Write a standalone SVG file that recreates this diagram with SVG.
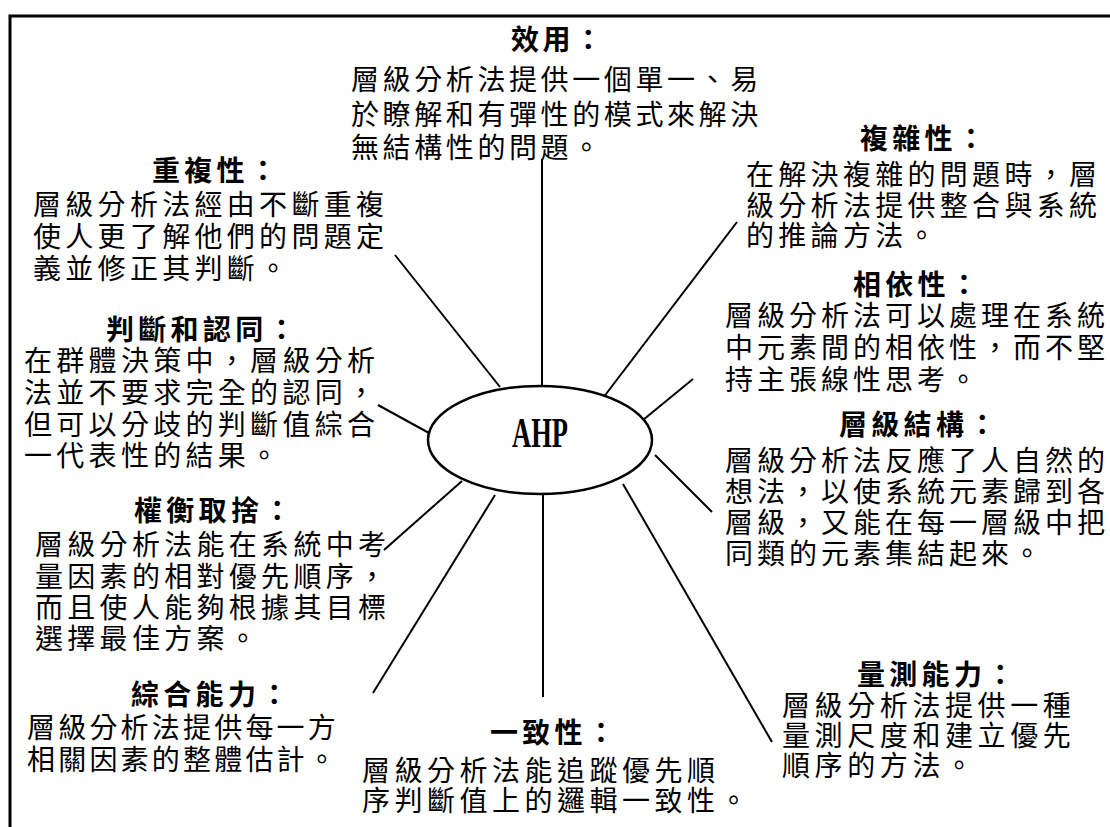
<svg xmlns="http://www.w3.org/2000/svg" width="1110" height="827" viewBox="0 0 1110 827">
<style>
.t{font-family:"Noto Sans CJK TC","Noto Sans CJK SC",sans-serif;font-size:28px;font-weight:700;fill:#000;letter-spacing:4.3px}
.b{font-family:"Noto Sans CJK TC","Noto Sans CJK SC",sans-serif;font-size:28px;font-weight:400;fill:#000;letter-spacing:4.3px}
.c line{stroke:#000;stroke-width:2;stroke-linecap:butt}
</style>
<rect width="1110" height="827" fill="#fff"/>
<path d="M10,827 V16 H1110" fill="none" stroke="#000" stroke-width="3"/>
<g id="connectors" class="c">
<line x1="542" y1="159" x2="542" y2="386"/>
<line x1="395" y1="255" x2="500" y2="387"/>
<line x1="737" y1="222" x2="603" y2="398"/>
<line x1="693" y1="379" x2="643" y2="420"/>
<line x1="378" y1="405" x2="429" y2="433"/>
<line x1="655" y1="455" x2="712" y2="512"/>
<line x1="462" y1="481" x2="384" y2="550"/>
<line x1="495" y1="495" x2="373" y2="693"/>
<line x1="543" y1="492" x2="543" y2="697"/>
<line x1="623" y1="484" x2="772" y2="742"/>
</g>
<g id="ahp">
<ellipse cx="540" cy="440" rx="112" ry="54" fill="#fff" stroke="#000" stroke-width="2.5"/>
<text x="540" y="447" text-anchor="middle" font-family="Liberation Serif, serif" font-weight="700" font-size="42" textLength="56" lengthAdjust="spacingAndGlyphs">AHP</text>
</g>
<g id="utility" style="letter-spacing:3.6px">
<text class="t" x="511" y="50" style="letter-spacing:3.6px">效用：</text>
<text class="b" x="351" y="90" style="letter-spacing:3.6px">層級分析法提供一個單一、易</text>
<text class="b" x="351" y="125" style="letter-spacing:3.6px">於瞭解和有彈性的模式來解決</text>
<text class="b" x="351" y="158" style="letter-spacing:3.6px">無結構性的問題。</text>
</g>
<g id="complexity">
<text class="t" x="860" y="149">複雜性：</text>
<text class="b" x="746" y="185">在解決複雜的問題時，層</text>
<text class="b" x="746" y="216">級分析法提供整合與系統</text>
<text class="b" x="746" y="246">的推論方法。</text>
</g>
<g id="repetition">
<text class="t" x="152" y="181">重複性：</text>
<text class="b" x="33" y="215">層級分析法經由不斷重複</text>
<text class="b" x="33" y="247">使人更了解他們的問題定</text>
<text class="b" x="33" y="279">義並修正其判斷。</text>
</g>
<g id="interdependence">
<text class="t" x="853" y="295">相依性：</text>
<text class="b" x="725" y="326" style="letter-spacing:4px">層級分析法可以處理在系統</text>
<text class="b" x="725" y="358" style="letter-spacing:4px">中元素間的相依性，而不堅</text>
<text class="b" x="725" y="390" style="letter-spacing:4px">持主張線性思考。</text>
</g>
<g id="judgment">
<text class="t" x="106" y="340">判斷和認同：</text>
<text class="b" x="24" y="371">在群體決策中，層級分析</text>
<text class="b" x="24" y="403">法並不要求完全的認同，</text>
<text class="b" x="24" y="435">但可以分歧的判斷值綜合</text>
<text class="b" x="24" y="466">一代表性的結果。</text>
</g>
<g id="hierarchy">
<text class="t" x="839" y="435">層級結構：</text>
<text class="b" x="725" y="471" style="letter-spacing:4px">層級分析法反應了人自然的</text>
<text class="b" x="725" y="502" style="letter-spacing:4px">想法，以使系統元素歸到各</text>
<text class="b" x="725" y="533" style="letter-spacing:4px">層級，又能在每一層級中把</text>
<text class="b" x="725" y="564" style="letter-spacing:4px">同類的元素集結起來。</text>
</g>
<g id="tradeoffs">
<text class="t" x="134" y="521">權衡取捨：</text>
<text class="b" x="35" y="555">層級分析法能在系統中考</text>
<text class="b" x="35" y="587">量因素的相對優先順序，</text>
<text class="b" x="35" y="618">而且使人能夠根據其目標</text>
<text class="b" x="35" y="649">選擇最佳方案。</text>
</g>
<g id="synthesis">
<text class="t" x="131" y="705">綜合能力：</text>
<text class="b" x="27" y="738" style="letter-spacing:3.2px">層級分析法提供每一方</text>
<text class="b" x="27" y="770" style="letter-spacing:3.2px">相關因素的整體估計。</text>
</g>
<g id="consistency">
<text class="t" x="490" y="743">一致性：</text>
<text class="b" x="362" y="781" style="letter-spacing:4.5px">層級分析法能追蹤優先順</text>
<text class="b" x="362" y="811" style="letter-spacing:4.5px">序判斷值上的邏輯一致性。</text>
</g>
<g id="measurement">
<text class="t" x="857" y="685">量測能力：</text>
<text class="b" x="782" y="716" style="letter-spacing:4.6px">層級分析法提供一種</text>
<text class="b" x="782" y="746" style="letter-spacing:4.6px">量測尺度和建立優先</text>
<text class="b" x="782" y="776" style="letter-spacing:4.6px">順序的方法。</text>
</g>
</svg>
